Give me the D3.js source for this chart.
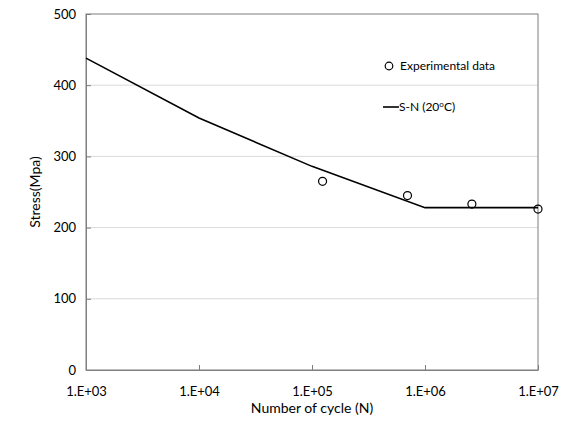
<!DOCTYPE html>
<html>
<head>
<meta charset="utf-8">
<script src="https://cdn.jsdelivr.net/npm/d3@7"></script>
<style>
  body { margin: 0; background: #fff; }
  svg { display: block; font-family: Lato, "Open Sans", sans-serif; }
</style>
</head>
<body>
<svg id="chart" width="569" height="436"></svg>
<script>
// S-N curve vs experimental fatigue data
const curveCycles = [1e3, 1e4, 1e5, 1e6, 1e7];
const curveStress = [438, 354, 286, 228, 228];

const expCycles = [1.24e5, 7.0e5, 2.6e6, 1e7];
const expStress = [265, 245, 233, 226];

const xTicks = [1e3, 1e4, 1e5, 1e6, 1e7];
const xTickLabels = ['1.E+03', '1.E+04', '1.E+05', '1.E+06', '1.E+07'];
const yTicks = [0, 100, 200, 300, 400, 500];

const svg = d3.select('#chart');
const margin = { top: 14, right: 31, bottom: 66, left: 86 };
const width = 569, height = 436;
const innerW = width - margin.left - margin.right;
const innerH = height - margin.top - margin.bottom;

const x = d3.scaleLog().domain([1e3, 1e7]).range([0, innerW]);
const y = d3.scaleLinear().domain([0, 500]).range([innerH, 0]);

const g = svg.append('g').attr('transform', `translate(${margin.left},${margin.top})`);

// gridlines
g.append('g')
    .selectAll('line')
    .data(yTicks.filter(d => d > 0 && d < 500))
    .enter().append('line')
    .attr('x1', 0).attr('x2', innerW)
    .attr('y1', d => y(d)).attr('y2', d => y(d))
    .attr('stroke', '#d9d9d9').attr('stroke-width', 1);

// frame
g.append('rect')
    .attr('x', 0).attr('y', 0)
    .attr('width', innerW).attr('height', innerH)
    .attr('fill', 'none').attr('stroke', '#7f7f7f').attr('stroke-width', 1);

// axes with inner ticks
const xAxis = d3.axisBottom(x).tickValues(xTicks)
    .tickFormat((d, i) => xTickLabels[i]).tickSizeInner(-5).tickSizeOuter(0).tickPadding(17);
const yAxis = d3.axisLeft(y).tickValues(yTicks)
    .tickSizeInner(-5).tickSizeOuter(0).tickPadding(10);

const gx = g.append('g').attr('transform', `translate(0,${innerH})`).call(xAxis);
const gy = g.append('g').call(yAxis);
[gx, gy].forEach(a => {
    a.select('.domain').attr('stroke', '#7f7f7f');
    a.selectAll('.tick line').attr('stroke', '#7f7f7f');
    a.selectAll('.tick text').attr('fill', '#000').attr('font-size', '13px')
        .attr('font-family', 'Lato, "Open Sans", sans-serif');
});

// S-N line
const line = d3.line()
    .x((d, i) => x(curveCycles[i]))
    .y(d => y(d));
g.append('path')
    .datum(curveStress)
    .attr('d', line)
    .attr('fill', 'none')
    .attr('stroke', '#000')
    .attr('stroke-width', 1.6);

// experimental points
g.append('g')
    .selectAll('circle')
    .data(expStress)
    .enter().append('circle')
    .attr('cx', (d, i) => x(expCycles[i]))
    .attr('cy', d => y(d))
    .attr('r', 4)
    .attr('fill', 'none')
    .attr('stroke', '#000')
    .attr('stroke-width', 1.2);

// legend
const leg = svg.append('g').attr('font-size', '12px');
leg.append('circle').attr('cx', 389).attr('cy', 66).attr('r', 3.8)
    .attr('fill', 'none').attr('stroke', '#000').attr('stroke-width', 1.2);
leg.append('text').attr('x', 400).attr('y', 70).text('Experimental data');
leg.append('line').attr('x1', 383).attr('x2', 399).attr('y1', 107).attr('y2', 107)
    .attr('stroke', '#000').attr('stroke-width', 1.6);
const sn = leg.append('text').attr('x', 399).attr('y', 111);
sn.append('tspan').text('S-N (20');
sn.append('tspan').attr('font-size', '8px').attr('dy', -4).text('o');
sn.append('tspan').attr('dy', 4).text('C)');

// axis titles
svg.append('text')
    .attr('x', margin.left + innerW / 2).attr('y', 413)
    .attr('text-anchor', 'middle').attr('font-size', '14px')
    .text('Number of cycle (N)');
svg.append('text')
    .attr('transform', `translate(40,${margin.top + innerH / 2}) rotate(-90)`)
    .attr('text-anchor', 'middle').attr('font-size', '14px')
    .text('Stress(Mpa)');
</script>
</body>
</html>
